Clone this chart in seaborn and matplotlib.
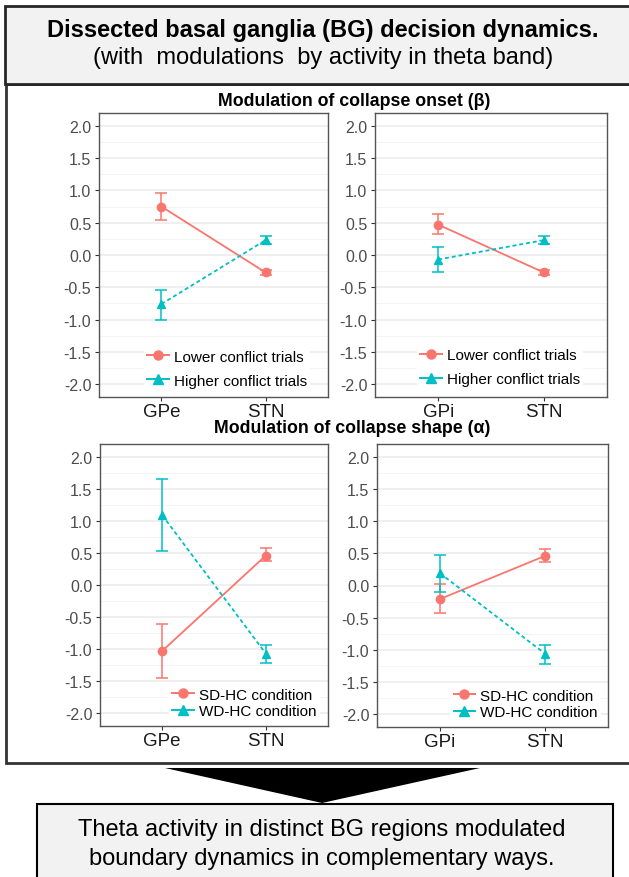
import matplotlib
matplotlib.use("Agg")
import matplotlib.pyplot as plt
from matplotlib.lines import Line2D
from matplotlib.patches import Rectangle, Polygon
import numpy as np
import pandas as pd
import seaborn as sns

plt.rcParams['font.family'] = ['Liberation Sans', 'DejaVu Sans']

RED = "#F8766D"
TEAL = "#00BFC4"
DOTTED = (0, (2.2, 1.6))

## values (mean, lower and upper end of error bar)
regions_gpe = ["GPe", "STN"]
regions_gpi = ["GPi", "STN"]
conflict_names = ["Lower conflict trials", "Higher conflict trials"]
condition_names = ["SD-HC condition", "WD-HC condition"]

# collapse onset, GPe / STN
onset_gpe_low = [0.75, -0.27]
onset_gpe_low_lo = [0.55, -0.31]
onset_gpe_low_hi = [0.96, -0.23]
onset_gpe_high = [-0.76, 0.23]
onset_gpe_high_lo = [-1.00, 0.17]
onset_gpe_high_hi = [-0.54, 0.30]

# collapse onset, GPi / STN
onset_gpi_low = [0.47, -0.27]
onset_gpi_low_lo = [0.33, -0.31]
onset_gpi_low_hi = [0.63, -0.23]
onset_gpi_high = [-0.07, 0.23]
onset_gpi_high_lo = [-0.26, 0.17]
onset_gpi_high_hi = [0.12, 0.30]

# collapse shape, GPe / STN
shape_gpe_sd = [-1.03, 0.46]
shape_gpe_sd_lo = [-1.45, 0.37]
shape_gpe_sd_hi = [-0.61, 0.58]
shape_gpe_wd = [1.09, -1.07]
shape_gpe_wd_lo = [0.53, -1.22]
shape_gpe_wd_hi = [1.65, -0.93]

# collapse shape, GPi / STN
shape_gpi_sd = [-0.21, 0.46]
shape_gpi_sd_lo = [-0.42, 0.36]
shape_gpi_sd_hi = [0.02, 0.57]
shape_gpi_wd = [0.19, -1.06]
shape_gpi_wd_lo = [-0.10, -1.22]
shape_gpi_wd_hi = [0.48, -0.93]

W, H = 629, 878
fig = plt.figure(figsize=(W / 100, H / 100), dpi=100)

# background layer in pixel coordinates for boxes, arrow and texts
bg = fig.add_axes([0, 0, 1, 1])
bg.set_xlim(0, W)
bg.set_ylim(H, 0)
bg.axis('off')
bg.add_patch(Rectangle((6, 85), 650, 679, facecolor='white', edgecolor='#333333', lw=2))
bg.add_patch(Rectangle((5, 7), 650, 78, facecolor='#F2F2F2', edgecolor='#262626', lw=2))
bg.add_patch(Rectangle((37, 805), 576, 100, facecolor='#F2F2F2', edgecolor='black', lw=1.5))
bg.add_patch(Polygon([(165, 769), (480, 769), (322, 804)], closed=True, facecolor='black', edgecolor='none'))

bg.text(323, 30, "Dissected basal ganglia (BG) decision dynamics.", ha='center', va='center',
        fontsize=17, fontweight='bold', color='black')
bg.text(323, 58, "(with  modulations  by activity in theta band)", ha='center', va='center',
        fontsize=17, color='black')
bg.text(322, 830, "Theta activity in distinct BG regions modulated", ha='center', va='center',
        fontsize=17, color='black')
bg.text(322, 859, "boundary dynamics in complementary ways.", ha='center', va='center',
        fontsize=17, color='black')
bg.text(354, 101, "Modulation of collapse onset (\u03b2)", ha='center', va='center',
        fontsize=12.8, fontweight='bold', color='black')
bg.text(352, 429, "Modulation of collapse shape (\u03b1)", ha='center', va='center',
        fontsize=12.8, fontweight='bold', color='black')


def px_axes(x0, y0, x1, y1):
    return fig.add_axes([x0 / W, 1 - y1 / H, (x1 - x0) / W, (y1 - y0) / H])


def draw_panel(ax, regions, names, means, los, his, leg_anchor, leg_space):
    rows = []
    for name, m in zip(names, means):
        for r, v in zip(regions, m):
            rows.append({"region": r, "series": name, "value": v})
    df = pd.DataFrame(rows)

    # grid like ggplot theme_bw
    ax.set_axisbelow(True)
    ax.set_yticks(np.arange(-2.0, 2.01, 0.5))
    ax.set_yticks(np.arange(-2.0, 2.01, 0.25), minor=True)
    ax.grid(axis='y', which='major', color='#EBEBEB', lw=1.1)
    ax.grid(axis='y', which='minor', color='#F2F2F2', lw=0.6)
    ax.grid(axis='x', which='major', color='#EBEBEB', lw=1.1)

    sns.pointplot(data=df, x="region", y="value", hue="series", order=regions,
                  hue_order=names, palette=[RED, TEAL], markers=["o", "^"],
                  linestyles=["-", DOTTED], errorbar=None, ax=ax, legend=False,
                  markersize=6, linewidth=1.3)

    for col, m, lo, hi in zip([RED, TEAL], means, los, his):
        m = np.array(m)
        yerr = [m - np.array(lo), np.array(hi) - m]
        ax.errorbar(range(len(regions)), m, yerr=yerr, fmt='none', ecolor=col,
                    elinewidth=1.1, capsize=4, capthick=1.1)

    ax.set_xlim(-0.6, 1.6)
    ax.set_ylim(-2.2, 2.2)
    ax.set_xlabel("")
    ax.set_ylabel("")
    ax.set_yticklabels(["%.1f" % t for t in np.arange(-2.0, 2.01, 0.5)])
    ax.tick_params(axis='y', which='major', labelsize=11.5, labelcolor='#4D4D4D',
                   length=3, color='#333333', width=0.8, pad=2.5)
    ax.tick_params(axis='y', which='minor', length=0)
    ax.tick_params(axis='x', labelsize=13.5, labelcolor='#1A1A1A', length=3,
                   color='#333333', width=0.8, pad=1.5)
    for s in ax.spines.values():
        s.set_color('#555555')
        s.set_linewidth(1.0)

    handles = [Line2D([], [], color=RED, marker='o', ls='-', lw=1.4, ms=6.5),
               Line2D([], [], color=TEAL, marker='^', ls='-', lw=1.4, ms=7.5)]
    ax.legend(handles, names, loc='lower left', bbox_to_anchor=leg_anchor,
              fontsize=11, frameon=True, framealpha=1, facecolor='white',
              edgecolor='none', handlelength=1.4, handletextpad=0.35,
              labelspacing=leg_space, borderpad=0.2)


ax1 = px_axes(99, 114, 328, 398)
draw_panel(ax1, regions_gpe, conflict_names,
           [onset_gpe_low, onset_gpe_high],
           [onset_gpe_low_lo, onset_gpe_high_lo],
           [onset_gpe_low_hi, onset_gpe_high_hi], (0.165, -0.005), 0.65)

ax2 = px_axes(375, 114, 607, 398)
draw_panel(ax2, regions_gpi, conflict_names,
           [onset_gpi_low, onset_gpi_high],
           [onset_gpi_low_lo, onset_gpi_high_lo],
           [onset_gpi_low_hi, onset_gpi_high_hi], (0.15, 0.0), 0.65)

ax3 = px_axes(100, 445, 328, 727)
draw_panel(ax3, regions_gpe, condition_names,
           [shape_gpe_sd, shape_gpe_wd],
           [shape_gpe_sd_lo, shape_gpe_wd_lo],
           [shape_gpe_sd_hi, shape_gpe_wd_hi], (0.27, -0.01), 0.17)

ax4 = px_axes(377, 445, 608, 728)
draw_panel(ax4, regions_gpi, condition_names,
           [shape_gpi_sd, shape_gpi_wd],
           [shape_gpi_sd_lo, shape_gpi_wd_lo],
           [shape_gpi_sd_hi, shape_gpi_wd_hi], (0.285, -0.01), 0.17)

fig.savefig("out.png", dpi=100)
